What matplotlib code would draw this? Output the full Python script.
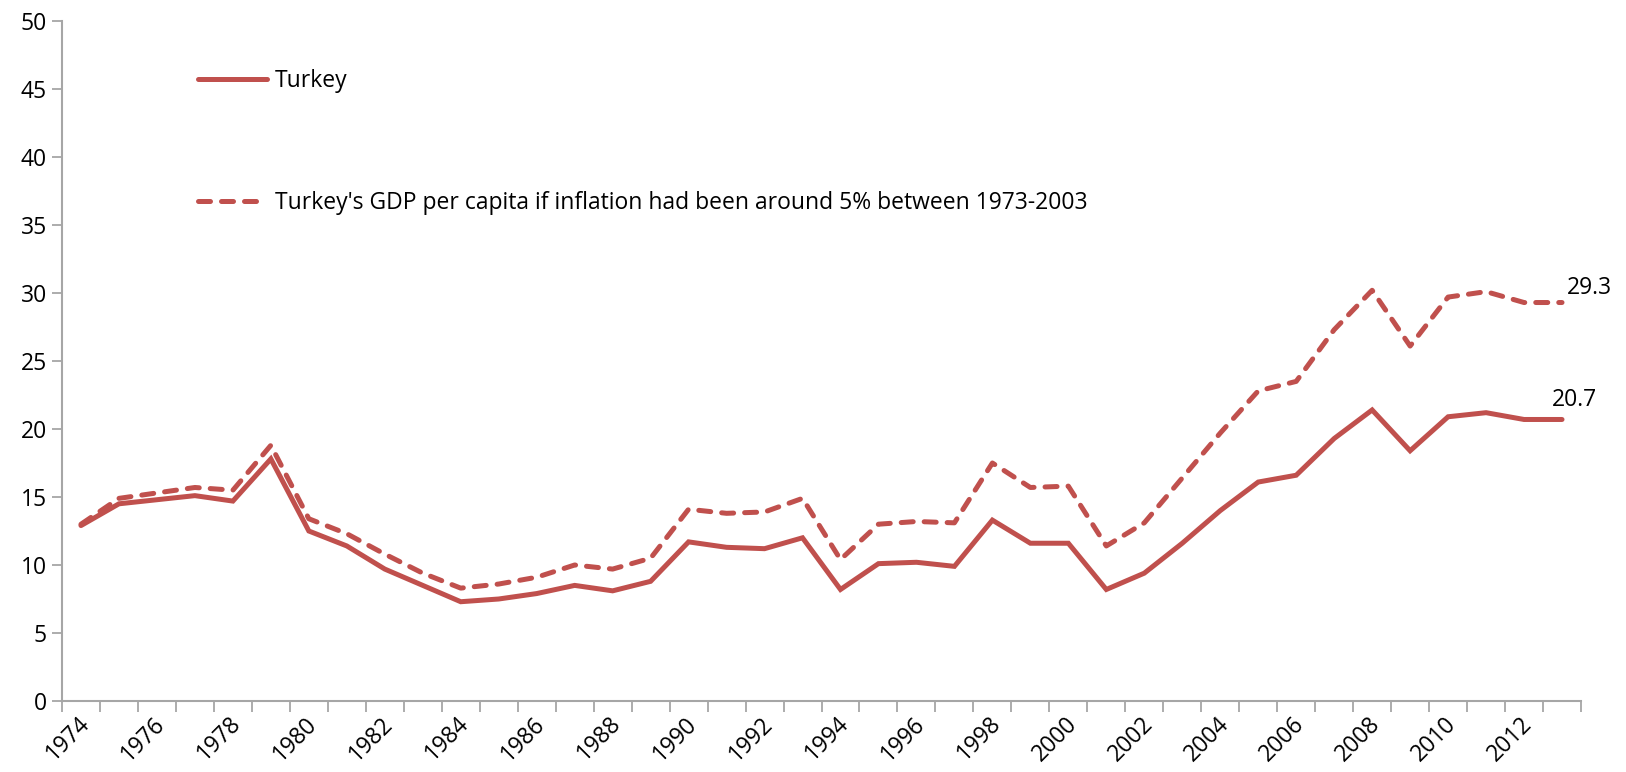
import numpy as np
import matplotlib
matplotlib.use("Agg")
from matplotlib import pyplot as plt
from matplotlib import transforms

plt.rcParams['font.family'] = ['Open Sans', 'DejaVu Sans']

years = list(range(1974, 2014))
turkey = [12.9, 14.5, 14.8, 15.1, 14.7, 17.8, 12.5, 11.4, 9.7, 8.5,
          7.3, 7.5, 7.9, 8.5, 8.1, 8.8, 11.7, 11.3, 11.2, 12.0,
          8.2, 10.1, 10.2, 9.9, 13.3, 11.6, 11.6, 8.2, 9.4, 11.6,
          14.0, 16.1, 16.6, 19.3, 21.4, 18.4, 20.9, 21.2, 20.7, 20.7]
turkey_5pct = [13.0, 14.9, 15.3, 15.7, 15.5, 18.8, 13.4, 12.3, 10.8, 9.4,
               8.3, 8.6, 9.1, 10.0, 9.7, 10.5, 14.1, 13.8, 13.9, 14.9,
               10.4, 13.0, 13.2, 13.1, 17.5, 15.7, 15.8, 11.4, 13.1, 16.4,
               19.7, 22.8, 23.5, 27.3, 30.2, 26.1, 29.7, 30.1, 29.3, 29.3]
labels = ["Turkey",
          "Turkey's GDP per capita if inflation had been around 5% between 1973-2003"]

red = '#C0504D'
grey = '#A6A6A6'
fs = 16.5

fig = plt.figure(figsize=(16.26, 7.72), dpi=100)
ax = fig.add_axes([62/1626, 1-701/772, (1581-62)/1626, (701-21)/772])

x = np.arange(len(years))
l1, = ax.plot(x, turkey, color=red, lw=3.6, solid_capstyle='round', solid_joinstyle='miter')
l2, = ax.plot(x, turkey_5pct, color=red, lw=3.6, dashes=(2.4, 2.2), dash_capstyle='round')

# end labels
ax.text(x[-1] - 0.28, turkey[-1] + 0.55, '%.1f' % turkey[-1], fontsize=fs, ha='left', va='bottom')
ax.text(x[-1] + 0.12, turkey_5pct[-1] + 1.1, '%.1f' % turkey_5pct[-1], fontsize=fs, ha='left', va='center')

ax.set_xlim(-0.5, len(years) - 0.5)
ax.set_ylim(0, 50)
ax.set_yticks(range(0, 51, 5))
ax.set_xticks(np.arange(-0.5, len(years)), labels=[])
ax.set_xticks(x[::2], labels=[str(y) for y in years[::2]], minor=True)
ax.tick_params(axis='x', which='major', length=8, color=grey, width=1.3)
ax.tick_params(axis='x', which='minor', length=0, labelsize=fs, pad=14)
ax.tick_params(axis='y', length=7, color=grey, width=1.3, labelsize=fs, pad=4)
off = transforms.ScaledTranslation(0.05, 0, fig.dpi_scale_trans)
for t in ax.get_xticklabels(minor=True):
    t.set_rotation(45)
    t.set_ha('right')
    t.set_va('center')
    t.set_rotation_mode('anchor')
    t.set_transform(t.get_transform() + off)

for s in ['top', 'right']:
    ax.spines[s].set_visible(False)
for s in ['left', 'bottom']:
    ax.spines[s].set_color(grey)
    ax.spines[s].set_linewidth(1.5)

ax.legend([l1, l2], labels, loc='upper left', bbox_to_anchor=(0.076, 0.96),
          frameon=False, fontsize=fs, handlelength=3.0, handletextpad=0.35,
          labelspacing=4.3)

fig.savefig('out.png', dpi=100)
